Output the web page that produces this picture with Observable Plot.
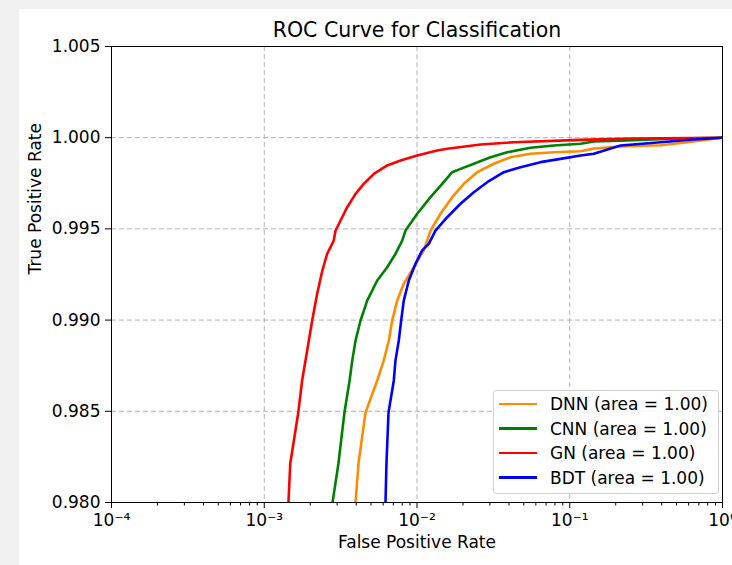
<!DOCTYPE html>
<html><head><meta charset="utf-8">
<script src="https://cdn.jsdelivr.net/npm/d3@7"></script>
<script src="https://cdn.jsdelivr.net/npm/@observablehq/plot@0.6"></script>
<style>
html,body{margin:0;padding:0;background:#f0f0f0;width:732px;height:565px;overflow:hidden;font-family:"DejaVu Sans",sans-serif;}
#panel{position:absolute;left:19px;top:9px;width:713px;height:556px;background:#fff;overflow:hidden;}
#title{position:absolute;left:0;width:796px;top:9px;text-align:center;font-size:20.5px;line-height:normal;color:#000;white-space:nowrap;}
#chart{position:absolute;left:0;top:31px;}
#legend{position:absolute;left:474px;top:381px;width:224px;height:102px;border:1px solid #d0d0d0;border-radius:3px;background:rgba(255,255,255,0.85);font-size:17px;color:#000;}
.row{position:absolute;left:0;height:24px;display:flex;align-items:center;white-space:nowrap;}
.sw{display:inline-block;width:38px;height:2.7px;margin-left:5px;margin-right:13px;}
</style>
</head><body>
<div id="panel">
  <div id="title">ROC Curve for Classification</div>
  <div id="chart"></div>
  <div id="legend"></div>
</div>
<script>
// ---- data ----
const models = ["DNN", "CNN", "GN", "BDT"];
const areas = ["1.00", "1.00", "1.00", "1.00"];

const dnnFpr = [0.00396, 0.00414, 0.00460, 0.00549, 0.00606, 0.00654, 0.00688, 0.00742, 0.00819, 0.00953, 0.01108, 0.01226, 0.01425, 0.01700, 0.02025, 0.02477, 0.03183, 0.04093, 0.05534, 0.07863, 0.1176, 0.1437, 0.2149, 0.3927, 0.6488, 1.0];
const dnnTpr = [0.98000, 0.98214, 0.98493, 0.98669, 0.98779, 0.98888, 0.98998, 0.99107, 0.99199, 0.99290, 0.99382, 0.99491, 0.99583, 0.99674, 0.99747, 0.99811, 0.99857, 0.99893, 0.99912, 0.99920, 0.99926, 0.99941, 0.99952, 0.99959, 0.99979, 1.0];

const cnnFpr = [0.00280, 0.00306, 0.00335, 0.00362, 0.00377, 0.00396, 0.00427, 0.00472, 0.00549, 0.00638, 0.00723, 0.00800, 0.00841, 0.01003, 0.01226, 0.01462, 0.01700, 0.01927, 0.02355, 0.03029, 0.03896, 0.05534, 0.07863, 0.1176, 0.1437, 0.2377, 0.505, 1.0];
const cnnTpr = [0.98000, 0.98214, 0.98493, 0.98669, 0.98779, 0.98888, 0.98998, 0.99107, 0.99217, 0.99290, 0.99363, 0.99436, 0.99491, 0.99583, 0.99674, 0.99747, 0.99811, 0.99829, 0.99857, 0.99893, 0.99920, 0.99945, 0.99957, 0.99967, 0.99979, 0.99985, 0.99996, 1.0];

const gnFpr = [0.00144, 0.00148, 0.00167, 0.00177, 0.00191, 0.00206, 0.00222, 0.00240, 0.00258, 0.00285, 0.00293, 0.00316, 0.00349, 0.00396, 0.00448, 0.00522, 0.00638, 0.00780, 0.01003, 0.01356, 0.01577, 0.02604, 0.04303, 0.1176, 0.25, 1.0];
const gnTpr = [0.98000, 0.98214, 0.98493, 0.98669, 0.98833, 0.98998, 0.99144, 0.99272, 0.99363, 0.99436, 0.99491, 0.99546, 0.99619, 0.99692, 0.99747, 0.99802, 0.99848, 0.99875, 0.99902, 0.99930, 0.99939, 0.99963, 0.99975, 0.99988, 0.99995, 1.0];

const bdtFpr = [0.00622, 0.00631, 0.00651, 0.00705, 0.00723, 0.00760, 0.00788, 0.00819, 0.00884, 0.00978, 0.01081, 0.01194, 0.01321, 0.01577, 0.01927, 0.02355, 0.02882, 0.03701, 0.04761, 0.06436, 0.08697, 0.1176, 0.1437, 0.2149, 0.3927, 0.6488, 1.0];
const bdtTpr = [0.98000, 0.98214, 0.98493, 0.98669, 0.98779, 0.98888, 0.98998, 0.99107, 0.99217, 0.99309, 0.99382, 0.99418, 0.99491, 0.99564, 0.99638, 0.99701, 0.99756, 0.99811, 0.99838, 0.99866, 0.99884, 0.99902, 0.99912, 0.99957, 0.99975, 0.99990, 1.0];

const xTicks = [1e-4, 1e-3, 1e-2, 1e-1, 1];
const xTickLabels = ["10⁻⁴", "10⁻³", "10⁻²", "10⁻¹", "10⁰"];
const yTicks = [0.980, 0.985, 0.990, 0.995, 1.000, 1.005];

// ---- style ----
const colors = ["#ff8c00", "#008000", "#ff0000", "#0000ff"];

const fprs = [dnnFpr, cnnFpr, gnFpr, bdtFpr];
const tprs = [dnnTpr, cnnTpr, gnTpr, bdtTpr];
const rows = models.flatMap((m, i) => fprs[i].map((f, j) => ({model: m, fpr: f, tpr: tprs[i][j]})));

const minorX = d3.range(-4, 0).flatMap(e => d3.range(2, 10).map(k => k * Math.pow(10, e)));

const chart = Plot.plot({
  width: 713,
  height: 525,
  marginLeft: 92,
  marginRight: 10,
  marginTop: 6,
  marginBottom: 63,
  style: {fontFamily: "DejaVu Sans, sans-serif", fontSize: "17px", color: "#000", background: "transparent", overflow: "visible"},
  x: {type: "log", domain: [1e-4, 1]},
  y: {domain: [0.980, 1.005]},
  color: {domain: models, range: colors},
  marks: [
    Plot.gridX(xTicks.slice(1, -1), {stroke: "#b0b0b0", strokeOpacity: 1, strokeWidth: 1, strokeDasharray: "5,3"}),
    Plot.gridY(yTicks.slice(1, -1), {stroke: "#b0b0b0", strokeOpacity: 1, strokeWidth: 1, strokeDasharray: "5,3"}),
    Plot.axisX(minorX, {tickSize: 3.5, tickFormat: () => "", label: null}),
    Plot.axisX(xTicks, {tickSize: 6, tickPadding: 5, tickFormat: d => xTickLabels[xTicks.indexOf(d)], label: null}),
    Plot.axisY(yTicks, {tickSize: 6, tickPadding: 5, tickFormat: d3.format(".3f"), label: null}),
    Plot.line(rows, {x: "fpr", y: "tpr", z: "model", stroke: "model", strokeWidth: 2.6, clip: true}),
    Plot.frame({stroke: "#000", strokeWidth: 1}),
    Plot.text(["False Positive Rate"], {frameAnchor: "bottom", dy: 45, text: d => d, fontSize: 17}),
    Plot.text(["True Positive Rate"], {frameAnchor: "left", dx: -76, rotate: -90, text: d => d, fontSize: 17})
  ]
});
document.getElementById("chart").appendChild(chart);

const legend = document.getElementById("legend");
models.forEach((m, i) => {
  const r = document.createElement("div");
  r.className = "row";
  r.style.top = (1 + i * 24.5) + "px";
  r.innerHTML = `<span class="sw" style="background:${colors[i]}"></span><span>${m} (area = ${areas[i]})</span>`;
  legend.appendChild(r);
});
</script>
</body></html>
